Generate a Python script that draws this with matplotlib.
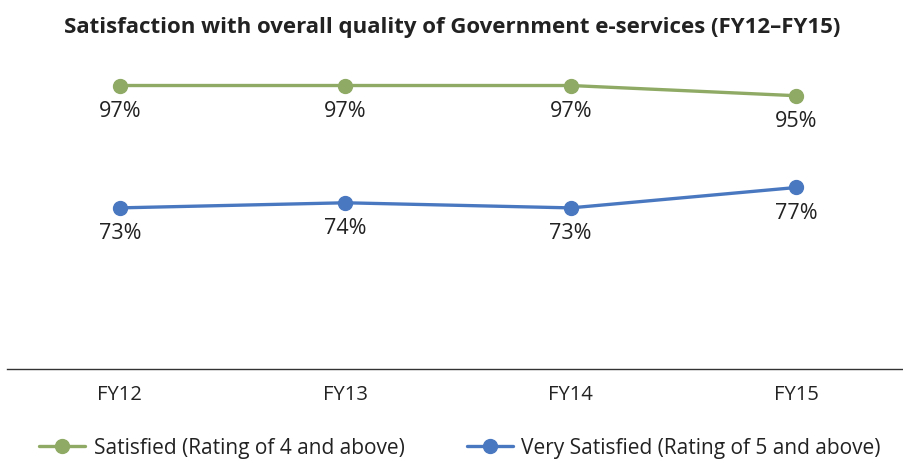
import matplotlib
matplotlib.use("Agg")
import matplotlib.pyplot as plt

years = ["FY12", "FY13", "FY14", "FY15"]
satisfied = [97, 97, 97, 95]
very_satisfied = [73, 74, 73, 77]
labels_sat = ["97%", "97%", "97%", "95%"]
labels_very = ["73%", "74%", "73%", "77%"]
names = ["Satisfied (Rating of 4 and above)", "Very Satisfied (Rating of 5 and above)"]

plt.rcParams['font.family'] = ['Open Sans', 'DejaVu Sans']
green = "#8FAA64"
blue = "#4A78C0"
txt = "#222222"

fig = plt.figure(figsize=(9.04, 4.64), dpi=100)
ax = fig.add_axes([7/904, 1-370/464, 902/904, (370-60)/464])
x = list(range(len(years)))
l1, = ax.plot(x, satisfied, color=green, lw=2.4, marker='o', ms=10, label=names[0], solid_capstyle='round')
l2, = ax.plot(x, very_satisfied, color=blue, lw=2.4, marker='o', ms=10, label=names[1], solid_capstyle='round')
for xi, v, s in zip(x, satisfied, labels_sat):
    ax.annotate(s, (xi, v), xytext=(0, -10.5), textcoords='offset points', ha='center', va='top', fontsize=15.5, color=txt)
for xi, v, s in zip(x, very_satisfied, labels_very):
    ax.annotate(s, (xi, v), xytext=(0, -10.5), textcoords='offset points', ha='center', va='top', fontsize=15.5, color=txt)

ax.set_xlim(-0.5, 3.5)
ax.set_ylim(41.4, 102.2)
ax.set_xticks(x)
ax.set_xticklabels(years, fontsize=14.5, color=txt)
ax.tick_params(axis='x', length=0, pad=10.5)
ax.set_yticks([])
for sp in ['top', 'right', 'left']:
    ax.spines[sp].set_visible(False)
ax.spines['bottom'].set_color('#333333')
ax.spines['bottom'].set_linewidth(1.0)

fig.text(0.5, 1-27/464, "Satisfaction with overall quality of Government e-services (FY12\u2013FY15)",
         ha='center', va='center', fontsize=16, fontweight='bold', color=txt)

fig.legend(handles=[l1, l2], loc='center', bbox_to_anchor=(460/904, 1-449/464), ncol=2, frameon=False,
           fontsize=15, handlelength=2.2, columnspacing=3.0, handletextpad=0.4, labelcolor=txt)

fig.savefig("out.png", dpi=100)
